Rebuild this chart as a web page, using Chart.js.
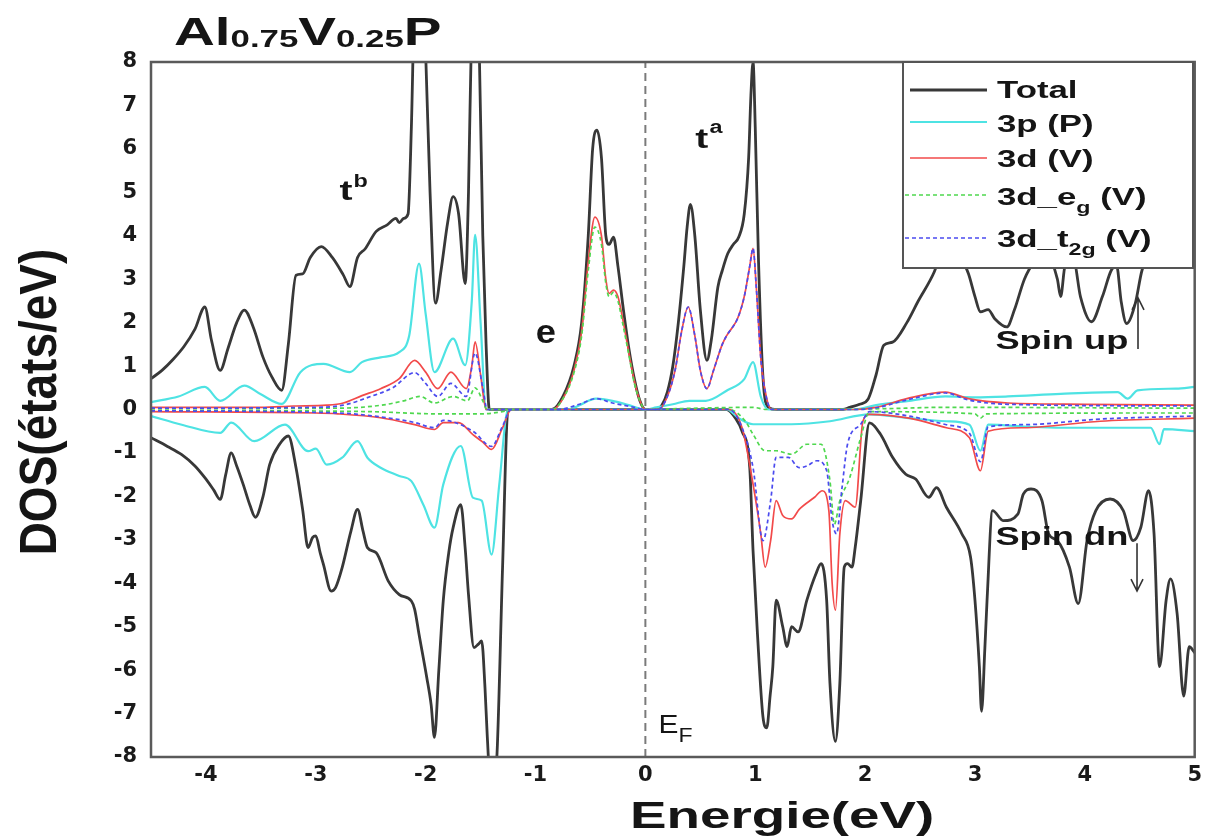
<!DOCTYPE html>
<html>
<head>
  <title>index</title>
  <script src="https://cdn.jsdelivr.net/npm/chart.js"></script>
  <style>
    body { margin: 0; background: #fff; }
  </style>
</head>
<body>
  <canvas id="chart" width="1208" height="836"></canvas>

  <script>
    // axis ticks
    const energyTicks = [-4, -3, -2, -1, 0, 1, 2, 3, 4, 5];
    const dosTicks = [-8, -7, -6, -5, -4, -3, -2, -1, 0, 1, 2, 3, 4, 5, 6, 7, 8];

    // [energy (eV), DOS]
    const totalUp = [[-4.5,0.71],[-4.4,0.9],[-4.3,1.15],[-4.2,1.45],[-4.1,1.85],[-4.01,2.36],[-3.95,1.6],[-3.87,0.9],[-3.8,1.4],[-3.72,2.0],[-3.65,2.29],[-3.57,1.9],[-3.48,1.2],[-3.4,0.75],[-3.31,0.44],[-3.25,1.5],[-3.18,3.09],[-3.12,3.12],[-3.05,3.5],[-2.95,3.75],[-2.85,3.5],[-2.75,3.1],[-2.69,2.83],[-2.62,3.5],[-2.55,3.7],[-2.45,4.1],[-2.35,4.25],[-2.27,4.4],[-2.24,4.3],[-2.2,4.4],[-2.16,4.5],[-2.13,6.5],[-2.1,9.5],[-2.06,10],[-2.03,10],[-2.0,8.2],[-1.96,5],[-1.91,2.45],[-1.86,3.2],[-1.8,4.3],[-1.75,4.9],[-1.7,4.5],[-1.64,2.9],[-1.61,5.0],[-1.58,9],[-1.54,10],[-1.51,8],[-1.48,4],[-1.45,1.5],[-1.42,0],[-0.85,0],[-0.75,0.3],[-0.65,1.0],[-0.58,2.0],[-0.52,4.0],[-0.48,6.0],[-0.44,6.43],[-0.4,5.8],[-0.36,4.0],[-0.33,3.8],[-0.29,3.97],[-0.25,3.3],[-0.2,2.3],[-0.15,1.4],[-0.1,0.7],[-0.05,0.2],[0,0],[0.1,0],[0.15,0.1],[0.2,0.4],[0.25,1.0],[0.3,2.0],[0.35,3.3],[0.38,4.2],[0.41,4.72],[0.45,4.0],[0.5,2.3],[0.56,1.13],[0.6,1.6],[0.66,2.82],[0.7,3.2],[0.75,3.59],[0.8,3.8],[0.85,3.97],[0.9,4.5],[0.94,5.8],[0.96,7.2],[0.98,8.0],[1.0,6.5],[1.03,3.4],[1.07,0.75],[1.12,0.05],[1.2,0],[1.8,0],[1.86,0.05],[1.95,0.12],[2.03,0.25],[2.1,0.8],[2.17,1.48],[2.25,1.55],[2.38,2.0],[2.48,2.48],[2.63,3.17],[2.75,4.0],[2.85,3.6],[2.94,3.13],[3.0,2.6],[3.05,2.25],[3.12,2.3],[3.18,2.09],[3.29,1.9],[3.36,2.3],[3.45,3.0],[3.54,3.4],[3.65,3.6],[3.75,3.0],[3.78,2.6],[3.82,3.3],[3.9,3.4],[3.96,2.6],[4.06,2.02],[4.16,2.6],[4.24,3.2],[4.29,3.3],[4.33,2.5],[4.38,1.98],[4.46,2.45],[4.52,3.2],[4.6,3.6],[4.7,3.4],[4.8,3.6],[4.9,4.0],[4.95,5.5],[4.98,4.6],[5.0,3.5]];
    const totalDn = [[-4.5,-0.65],[-4.35,-0.85],[-4.22,-1.04],[-4.1,-1.3],[-4.01,-1.57],[-3.93,-1.85],[-3.87,-2.07],[-3.82,-1.5],[-3.77,-1.0],[-3.72,-1.3],[-3.66,-1.73],[-3.6,-2.2],[-3.55,-2.48],[-3.48,-2.0],[-3.42,-1.27],[-3.33,-0.8],[-3.25,-0.61],[-3.18,-1.34],[-3.12,-2.3],[-3.07,-3.18],[-3.03,-2.95],[-3.0,-2.91],[-2.96,-3.3],[-2.93,-3.57],[-2.86,-4.18],[-2.82,-4.1],[-2.76,-3.64],[-2.68,-2.8],[-2.62,-2.3],[-2.57,-2.8],[-2.53,-3.18],[-2.45,-3.3],[-2.34,-3.95],[-2.24,-4.26],[-2.13,-4.41],[-2.1,-4.6],[-2.06,-5.18],[-1.99,-6.17],[-1.95,-6.8],[-1.92,-7.55],[-1.88,-6.0],[-1.84,-4.41],[-1.79,-3.3],[-1.75,-2.72],[-1.68,-2.19],[-1.64,-3.2],[-1.61,-4.26],[-1.56,-5.48],[-1.52,-5.4],[-1.49,-5.33],[-1.46,-6.4],[-1.44,-7.48],[-1.41,-8.6],[-1.38,-8.6],[-1.35,-7.9],[-1.3,-3.64],[-1.25,0],[0.74,0],[0.82,-0.2],[0.88,-0.5],[0.95,-1.34],[0.98,-3.25],[1.02,-5.16],[1.07,-7.07],[1.105,-7.33],[1.135,-6.6],[1.16,-5.92],[1.19,-4.39],[1.25,-5.0],[1.29,-5.46],[1.33,-5.0],[1.39,-5.12],[1.47,-4.39],[1.55,-3.8],[1.6,-3.55],[1.65,-4.39],[1.68,-6.3],[1.73,-7.64],[1.77,-6.3],[1.81,-3.63],[1.84,-3.55],[1.88,-3.63],[1.91,-3.17],[1.96,-2.1],[2.04,-0.31],[2.14,-0.57],[2.25,-1.1],[2.37,-1.49],[2.46,-1.6],[2.58,-2.02],[2.65,-1.8],[2.74,-2.25],[2.88,-2.86],[2.96,-3.4],[3.0,-4.39],[3.04,-5.92],[3.06,-6.95],[3.09,-5.5],[3.11,-4.39],[3.16,-2.33],[3.26,-2.56],[3.39,-2.41],[3.44,-1.95],[3.51,-1.83],[3.61,-2.1],[3.67,-2.86],[3.75,-3.02],[3.86,-3.63],[3.94,-4.47],[4.02,-3.02],[4.1,-2.33],[4.23,-2.06],[4.35,-2.33],[4.44,-3.02],[4.51,-2.71],[4.58,-1.87],[4.63,-2.86],[4.68,-5.92],[4.74,-4.39],[4.78,-3.9],[4.84,-4.7],[4.9,-6.6],[4.95,-5.46],[5.0,-5.6]];

    const pUp = [[-4.5,0.17],[-4.25,0.3],[-4.01,0.52],[-3.87,0.2],[-3.65,0.55],[-3.5,0.35],[-3.31,0.13],[-3.14,0.86],[-2.93,1.05],[-2.69,0.86],[-2.58,1.09],[-2.41,1.2],[-2.24,1.32],[-2.15,1.7],[-2.06,3.36],[-2.0,2.2],[-1.92,0.86],[-1.75,1.63],[-1.64,1.02],[-1.58,2.5],[-1.55,4.02],[-1.5,2.0],[-1.45,0],[-0.7,0],[-0.6,0.1],[-0.45,0.25],[-0.3,0.2],[-0.15,0.1],[0,0],[0.1,0.05],[0.25,0.12],[0.4,0.2],[0.55,0.2],[0.75,0.45],[0.9,0.7],[0.98,1.09],[1.05,0.3],[1.12,0],[1.9,0],[2.1,0.1],[2.4,0.2],[2.73,0.3],[3.0,0.28],[3.3,0.3],[3.78,0.36],[4.3,0.4],[4.39,0.25],[4.48,0.44],[4.83,0.48],[5.0,0.52]];
    const pDn = [[-4.5,-0.15],[-4.22,-0.35],[-3.87,-0.54],[-3.77,-0.3],[-3.56,-0.73],[-3.28,-0.35],[-3.07,-0.96],[-3.0,-0.9],[-2.9,-1.27],[-2.76,-1.11],[-2.62,-0.73],[-2.53,-1.11],[-2.41,-1.34],[-2.24,-1.53],[-2.13,-1.65],[-2.02,-2.2],[-1.92,-2.72],[-1.84,-1.73],[-1.68,-0.84],[-1.57,-2.03],[-1.49,-2.1],[-1.4,-3.34],[-1.33,-1.73],[-1.25,0],[0.74,0],[0.85,-0.2],[0.98,-0.34],[1.33,-0.34],[1.68,-0.27],[2.04,-0.11],[2.4,-0.2],[2.74,-0.27],[2.95,-0.35],[3.05,-0.95],[3.12,-0.35],[3.5,-0.4],[3.78,-0.42],[4.3,-0.42],[4.6,-0.42],[4.68,-0.8],[4.72,-0.45],[5.0,-0.5]];

    const dUp = [[-4.5,0.05],[-3.5,0.05],[-3.2,0.08],[-2.9,0.1],[-2.75,0.15],[-2.58,0.32],[-2.41,0.48],[-2.24,0.71],[-2.1,1.13],[-2.0,0.86],[-1.89,0.48],[-1.77,0.86],[-1.63,0.48],[-1.58,1.0],[-1.55,1.56],[-1.5,0.8],[-1.45,0],[-0.85,0],[-0.75,0.25],[-0.65,0.9],[-0.58,1.8],[-0.52,3.4],[-0.46,4.43],[-0.4,4.0],[-0.36,3.0],[-0.33,2.67],[-0.29,2.75],[-0.25,2.6],[-0.2,2.0],[-0.15,1.3],[-0.1,0.65],[-0.05,0.2],[0,0],[0.12,0],[0.2,0.3],[0.27,0.9],[0.33,1.8],[0.39,2.36],[0.45,1.7],[0.5,0.9],[0.56,0.48],[0.62,0.9],[0.7,1.5],[0.74,1.7],[0.84,2.1],[0.9,2.6],[0.95,3.3],[0.98,3.71],[1.01,2.8],[1.05,1.2],[1.1,0.3],[1.15,0],[1.9,0],[2.1,0.05],[2.38,0.25],[2.73,0.4],[2.94,0.25],[3.3,0.15],[4.0,0.12],[5.0,0.1]];
    const dDn = [[-4.5,-0.05],[-3.0,-0.08],[-2.8,-0.1],[-2.41,-0.19],[-2.1,-0.35],[-1.92,-0.46],[-1.84,-0.3],[-1.7,-0.3],[-1.57,-0.58],[-1.48,-0.75],[-1.4,-0.92],[-1.3,-0.42],[-1.22,0],[0.76,0],[0.88,-0.42],[0.98,-1.72],[1.05,-2.86],[1.09,-3.63],[1.14,-3.02],[1.19,-2.1],[1.25,-2.44],[1.33,-2.52],[1.4,-2.3],[1.54,-2.02],[1.61,-1.87],[1.67,-2.33],[1.7,-4.0],[1.73,-4.62],[1.77,-2.86],[1.82,-2.1],[1.91,-2.25],[1.98,-0.27],[2.04,-0.11],[2.4,-0.2],[2.74,-0.42],[2.95,-0.65],[3.05,-1.41],[3.12,-0.5],[3.44,-0.42],[4.14,-0.27],[5.0,-0.2]];

    const egUp = [[-4.5,0.02],[-2.8,0.03],[-2.4,0.1],[-2.2,0.2],[-2.05,0.3],[-1.92,0.15],[-1.75,0.3],[-1.62,0.2],[-1.55,0.5],[-1.48,0.2],[-1.44,0],[-0.85,0],[-0.75,0.25],[-0.65,0.85],[-0.58,1.7],[-0.52,3.2],[-0.46,4.2],[-0.4,3.8],[-0.36,2.9],[-0.33,2.6],[-0.29,2.7],[-0.25,2.5],[-0.2,1.9],[-0.15,1.25],[-0.1,0.6],[-0.05,0.2],[0,0],[0.3,0.02],[0.98,0.05],[1.1,0],[2.2,0.02],[2.7,0.05],[5.0,0.03]];
    const egDn = [[-4.5,-0.02],[-2.5,-0.05],[-1.9,-0.1],[-1.5,-0.1],[-1.3,-0.05],[-1.22,0],[0.76,0],[0.91,-0.27],[0.98,-0.57],[1.09,-0.95],[1.19,-0.95],[1.33,-1.03],[1.47,-0.8],[1.6,-0.8],[1.68,-1.64],[1.72,-2.64],[1.77,-2.1],[1.86,-1.57],[1.96,-0.65],[2.04,-0.05],[3.0,-0.1],[3.05,-0.2],[3.1,-0.1],[5.0,-0.08]];

    const t2gUp = [[-4.5,0.03],[-3.0,0.05],[-2.75,0.1],[-2.5,0.3],[-2.3,0.5],[-2.1,0.85],[-2.0,0.6],[-1.89,0.3],[-1.77,0.6],[-1.63,0.3],[-1.55,1.3],[-1.48,0.5],[-1.44,0],[-0.8,0],[-0.6,0.12],[-0.45,0.25],[-0.3,0.15],[-0.1,0.05],[0,0],[0.12,0],[0.2,0.3],[0.27,0.9],[0.33,1.8],[0.39,2.36],[0.45,1.7],[0.5,0.9],[0.56,0.48],[0.62,0.9],[0.7,1.5],[0.74,1.7],[0.84,2.1],[0.9,2.6],[0.95,3.3],[0.98,3.71],[1.01,2.8],[1.05,1.2],[1.1,0.3],[1.15,0],[1.9,0],[2.1,0.04],[2.38,0.22],[2.73,0.38],[2.94,0.22],[3.3,0.12],[5.0,0.08]];
    const t2gDn = [[-4.5,-0.03],[-2.8,-0.08],[-2.41,-0.17],[-2.1,-0.3],[-1.92,-0.42],[-1.84,-0.25],[-1.57,-0.5],[-1.4,-0.85],[-1.3,-0.38],[-1.22,0],[0.76,0],[0.88,-0.42],[0.98,-1.34],[1.07,-3.02],[1.14,-2.1],[1.19,-1.1],[1.3,-1.1],[1.4,-1.34],[1.47,-1.3],[1.56,-1.18],[1.65,-1.41],[1.7,-2.56],[1.74,-2.86],[1.79,-1.8],[1.84,-0.8],[1.96,-0.34],[2.04,-0.05],[2.4,-0.15],[2.74,-0.35],[2.95,-0.55],[3.05,-1.2],[3.12,-0.4],[3.44,-0.35],[4.14,-0.22],[5.0,-0.15]];

    const fermiLine = [[0, -8], [0, 8]];

    const FONT = '"Liberation Sans", Arial, sans-serif';
    const toPts = arr => arr.map(p => ({ x: p[0], y: p[1] }));

    const series = [
      { name: [['Total']], up: totalUp, dn: totalDn, color: '#383838', width: 2.8, dash: [] },
      { name: [['3p (P)']], up: pUp, dn: pDn, color: '#4ee3e3', width: 2.2, dash: [] },
      { name: [['3d (V)']], up: dUp, dn: dDn, color: '#f24a4a', width: 1.7, dash: [] },
      { name: [['3d_e'], ['g', 'sub'], [' (V)']], up: egUp, dn: egDn, color: '#4fd84f', width: 1.7, dash: [4, 3] },
      { name: [['3d_t'], ['2g', 'sub'], [' (V)']], up: t2gUp, dn: t2gDn, color: '#4b4bef', width: 1.7, dash: [4, 3] }
    ];

    const datasets = [{
      label: 'EF', data: toPts(fermiLine), borderColor: '#7a7a7a', borderWidth: 2,
      borderDash: [8, 5], order: 10, pointRadius: 0
    }];
    series.forEach((s, i) => {
      ['up', 'dn'].forEach(k => {
        datasets.push({
          label: s.name.map(n => n[0]).join('') + ' ' + k,
          data: toPts(s[k]),
          borderColor: s.color,
          borderWidth: s.width,
          borderDash: s.dash,
          pointRadius: 0,
          cubicInterpolationMode: 'monotone',
          order: 5 - i
        });
      });
    });

    // stretched text, the figure is wider than it is tall
    function rich(ctx, segs, x, y, sx) {
      let cx = x;
      segs.forEach(s => {
        ctx.font = (s.weight || 'bold') + ' ' + s.size + 'px ' + FONT;
        const w = ctx.measureText(s.t).width;
        ctx.save();
        ctx.translate(cx, y + (s.dy || 0));
        ctx.scale(sx, 1);
        ctx.fillText(s.t, 0, 0);
        ctx.restore();
        cx += w * sx;
      });
      return cx;
    }

    function arrow(ctx, x, y0, y1) {
      const d = y1 > y0 ? -1 : 1;
      ctx.beginPath();
      ctx.moveTo(x, y0); ctx.lineTo(x, y1);
      ctx.moveTo(x - 6, y1 + d * 12); ctx.lineTo(x, y1); ctx.lineTo(x + 6, y1 + d * 12);
      ctx.stroke();
    }

    const decor = {
      id: 'decor',
      afterDraw(chart) {
        const { ctx, chartArea: a, scales } = chart;
        const px = v => scales.x.getPixelForValue(v);
        const py = v => scales.y.getPixelForValue(v);
        ctx.save();

        // frame
        ctx.strokeStyle = '#5a5a5a';
        ctx.lineWidth = 2.5;
        ctx.strokeRect(a.left, a.top, a.right - a.left, a.bottom - a.top);

        ctx.fillStyle = '#151515';
        ctx.textBaseline = 'alphabetic';
        ctx.textAlign = 'left';

        // title
        rich(ctx, [
          { t: 'Al', size: 39 }, { t: '0.75', size: 24, dy: 2 },
          { t: 'V', size: 39 }, { t: '0.25', size: 24, dy: 2 }, { t: 'P', size: 39 }
        ], 174, 45, 1.45);

        // axis titles
        rich(ctx, [{ t: 'Energie(eV)', size: 37 }], 630, 828, 1.48);
        ctx.save();
        ctx.translate(56, 402);
        ctx.rotate(-Math.PI / 2);
        ctx.scale(1, 1.12);
        ctx.font = 'bold 46px ' + FONT;
        ctx.textAlign = 'center';
        ctx.fillText('DOS(états/eV)', 0, 0);
        ctx.restore();

        // band labels
        let e = rich(ctx, [{ t: 't', size: 27 }], px(-2.785), py(4.83), 1.45);
        rich(ctx, [{ t: 'b', size: 18, dy: -13 }], e + 1, py(4.83), 1.3);
        rich(ctx, [{ t: 'e', size: 33 }], px(-0.997), py(1.53), 1.1);
        e = rich(ctx, [{ t: 't', size: 27 }], px(0.455), py(6.03), 1.45);
        rich(ctx, [{ t: 'a', size: 18, dy: -15 }], e + 1, py(6.03), 1.3);
        e = rich(ctx, [{ t: 'E', size: 26, weight: 'normal' }], px(0.119), py(-7.45), 1.15);
        rich(ctx, [{ t: 'F', size: 20, weight: 'normal' }], e, py(-7.66), 1.15);

        // spin labels and arrows
        rich(ctx, [{ t: 'Spin up', size: 25 }], px(3.186), py(1.4), 1.45);
        rich(ctx, [{ t: 'Spin dn', size: 25 }], px(3.186), py(-3.12), 1.45);
        ctx.strokeStyle = '#333';
        ctx.lineWidth = 1.6;
        arrow(ctx, px(4.484), py(1.39), py(2.57));
        arrow(ctx, px(4.475), py(-3.08), py(-4.18));

        // legend
        const L = { left: 903, top: a.top, right: 1193, bottom: 268 };
        ctx.fillStyle = '#fff';
        ctx.fillRect(L.left, L.top, L.right - L.left, L.bottom - L.top);
        ctx.strokeStyle = '#555';
        ctx.lineWidth = 2;
        ctx.strokeRect(L.left, L.top, L.right - L.left, L.bottom - L.top);
        const rowY = [90, 122, 158, 195, 238];
        const textY = [98, 132, 167, 205, 247];
        series.forEach((s, i) => {
          ctx.save();
          ctx.strokeStyle = s.color;
          ctx.lineWidth = s.width;
          ctx.setLineDash(s.dash);
          ctx.beginPath();
          ctx.moveTo(i < 3 ? 910 : 905, rowY[i]);
          ctx.lineTo(987, rowY[i]);
          ctx.stroke();
          ctx.restore();
          ctx.fillStyle = '#151515';
          rich(ctx, s.name.map(n => n[1] === 'sub'
            ? { t: n[0], size: 16, dy: 8 }
            : { t: n[0], size: 24 }), 997, textY[i], 1.45);
        });
        ctx.restore();
      }
    };

    const tickFont = { family: '"DejaVu Sans", sans-serif', size: 21, weight: 'bold' };

    new Chart(document.getElementById('chart'), {
      type: 'line',
      data: { datasets },
      options: {
        responsive: false,
        animation: false,
        devicePixelRatio: 1,
        layout: { padding: { top: 62, right: 10, left: 0, bottom: 0 } },
        plugins: { legend: { display: false }, tooltip: { enabled: false } },
        scales: {
          x: {
            type: 'linear', min: -4.5, max: 5,
            grid: { display: false, drawTicks: false },
            border: { display: false },
            afterBuildTicks: s => { s.ticks = energyTicks.map(v => ({ value: v })); },
            afterFit: s => { s.height = 79; },
            ticks: { autoSkip: false, maxRotation: 0, padding: 6, color: '#1a1a1a', font: tickFont }
          },
          y: {
            type: 'linear', min: -8, max: 8,
            grid: { display: false, drawTicks: false },
            border: { display: false },
            afterBuildTicks: s => { s.ticks = dosTicks.map(v => ({ value: v })); },
            afterFit: s => { s.width = 151; },
            ticks: { autoSkip: false, padding: 14, color: '#1a1a1a', font: tickFont }
          }
        }
      },
      plugins: [decor]
    });
  </script>
</body>
</html>
